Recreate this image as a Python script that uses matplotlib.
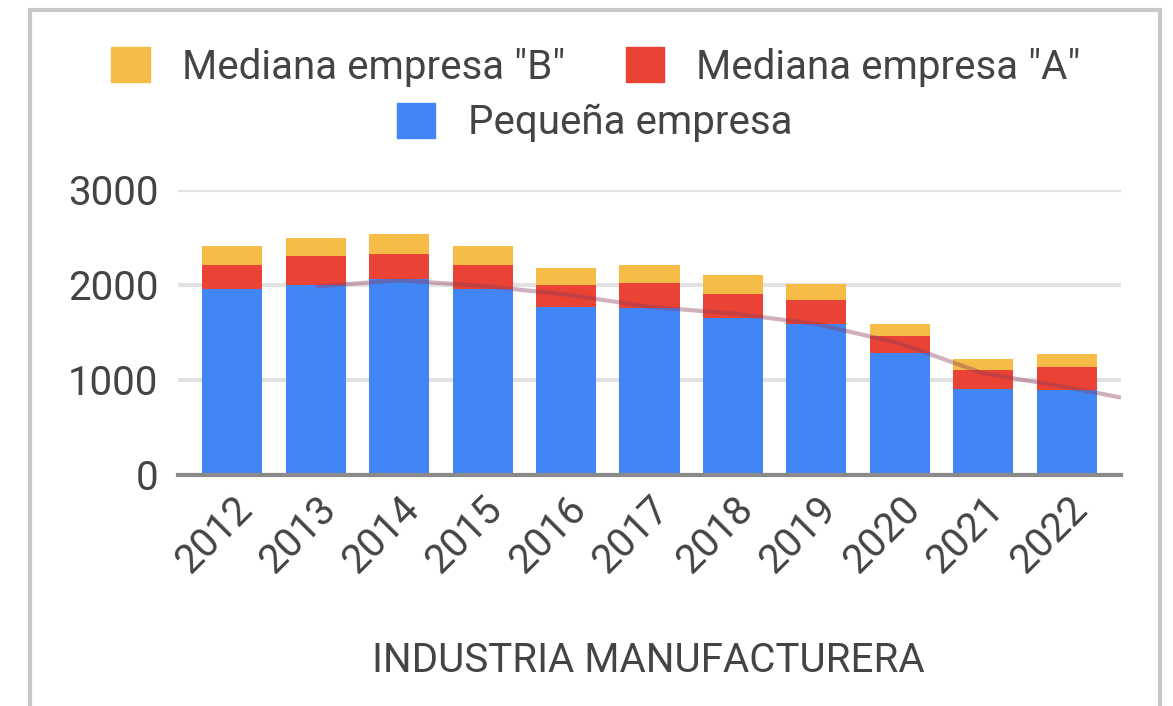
import matplotlib.pyplot as plt
from matplotlib.patches import Patch, Rectangle
from matplotlib.lines import Line2D

years = ['2012', '2013', '2014', '2015', '2016', '2017', '2018', '2019', '2020', '2021', '2022']
pequena = [1960, 2000, 2060, 1960, 1770, 1760, 1650, 1590, 1280, 910, 890]
mediana_a = [250, 300, 265, 250, 225, 265, 250, 250, 180, 200, 245]
mediana_b = [200, 190, 210, 200, 185, 190, 210, 170, 130, 115, 140]

# trend line for the small companies
trend_x = [1, 2, 3, 4, 5, 6, 7, 8, 9, 10, 10.65]
trend_y = [1985, 2050, 1990, 1900, 1770, 1700, 1590, 1385, 1070, 925, 815]

BLUE = '#4285f4'
RED = '#ea4335'
YELLOW = '#f5bd47'
TEXT = '#444444'

plt.rcParams['font.family'] = ['Roboto', 'DejaVu Sans']

fig = plt.figure(figsize=(11.73, 7.06), dpi=100)
ax = fig.add_axes([0.1517, 0.3272, 0.804, 0.4037])

x = range(len(years))
bottom_b = [p + a for p, a in zip(pequena, mediana_a)]
ax.bar(x, pequena, width=0.72, color=BLUE, zorder=2)
ax.bar(x, mediana_a, width=0.72, bottom=pequena, color=RED, zorder=2)
ax.bar(x, mediana_b, width=0.72, bottom=bottom_b, color=YELLOW, zorder=2)
ax.plot(trend_x, trend_y, color='#8b3a5a', alpha=0.4, lw=3, zorder=3,
        solid_capstyle='butt')

ax.set_xlim(-0.65, len(years) - 1 + 0.65)
ax.set_ylim(0, 3000)
ax.set_yticks([0, 1000, 2000, 3000])
ax.yaxis.grid(True, color='#e2e2e2', lw=3, zorder=0)
ax.axhline(0, color='#8a8a8a', lw=3, zorder=4, clip_on=False)
for s in ax.spines.values():
    s.set_visible(False)
ax.tick_params(length=0, labelsize=29, colors=TEXT)
ax.tick_params(axis='y', pad=14)
ax.set_xticks(list(x))
ax.set_xticklabels(years, rotation=45, ha='right', rotation_mode='anchor')
ax.tick_params(axis='x', pad=10)

fig.text(0.553, 0.065, 'INDUSTRIA MANUFACTURERA', ha='center', va='center',
         fontsize=29, color=TEXT)

h1 = [Patch(color=YELLOW, label='Mediana empresa "B"'),
      Patch(color=RED, label='Mediana empresa "A"')]
leg1 = fig.legend(handles=h1, loc='center', bbox_to_anchor=(0.508, 0.905),
                  ncol=2, frameon=False, fontsize=29, handlelength=0.95,
                  handleheight=0.95, handletextpad=0.8, columnspacing=1.5,
                  labelcolor=TEXT)
h2 = [Patch(color=BLUE, label='Pequeña empresa')]
fig.legend(handles=h2, loc='center', bbox_to_anchor=(0.507, 0.826),
           frameon=False, fontsize=29, handlelength=0.95, handleheight=0.95,
           handletextpad=0.8, labelcolor=TEXT)

fig.patches.append(Rectangle((30 / 1173, -0.05), 1130 / 1173, 0.05 + 696 / 706,
                             transform=fig.transFigure, fill=False,
                             edgecolor='#c8c8c8', lw=3))

fig.savefig('out.png', dpi=100)
